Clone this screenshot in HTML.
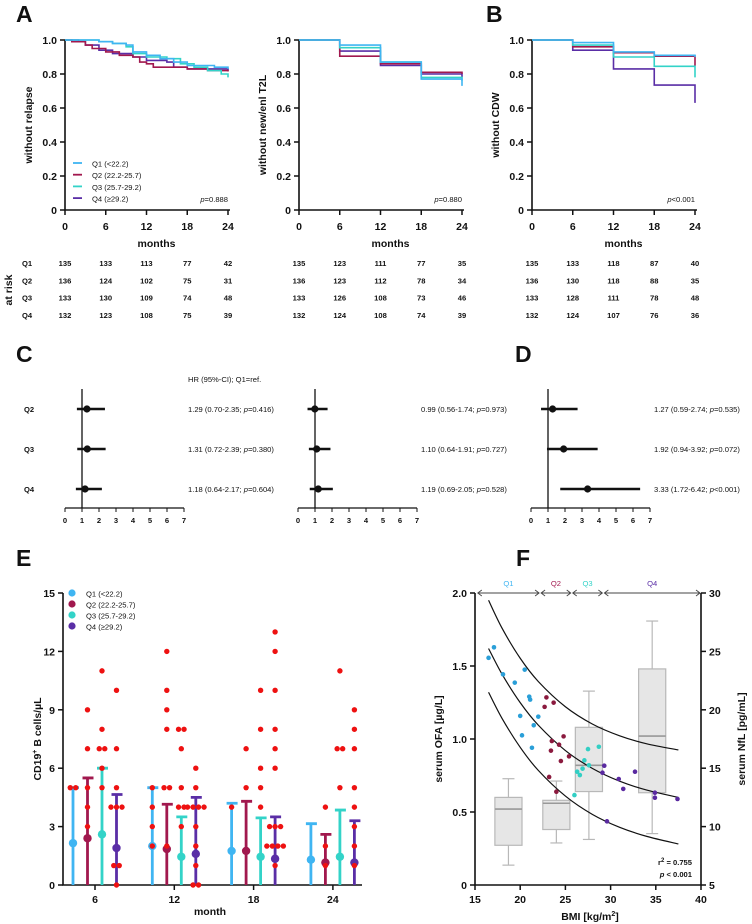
<!DOCTYPE html>
<html><head><meta charset="utf-8"><style>
html,body{margin:0;padding:0;background:#fff}
svg{display:block;font-family:"Liberation Sans",Arial,sans-serif}
.t{font-size:10.5px;font-weight:bold;fill:#111}
.s{font-size:7.6px;fill:#111}
.L{font-size:23px;font-weight:bold;fill:#111}
</style></head><body>
<svg id="fig" width="752" height="924" viewBox="0 0 752 924" xmlns="http://www.w3.org/2000/svg"></svg>
<script>
// ---------- DATA ----------
const qColors = ['#3fb5f2','#a1184e','#33d3c8','#5a2ea6'];
const qLabels = ['Q1 (<22.2)','Q2 (22.2-25.7)','Q3 (25.7-29.2)','Q4 (\u226529.2)'];
const kmMonths = [0,6,12,18,24];
const relQ1 = [[0,1],[4,1],[5,.99],[7,.98],[9,.97],[10,.93],[12,.91],[14,.89],[16,.87],[18,.85],[22,.84],[24,.83]];
const relQ2 = [[0,1],[1,.99],[3,.97],[4,.95],[6,.93],[8,.91],[10,.9],[11,.87],[12,.86],[13,.84],[17,.84],[18,.83],[21,.82],[24,.815]];
const relQ3 = [[0,1],[3,1],[5,.99],[7,.98],[9,.96],[10,.92],[12,.9],[15,.89],[17,.86],[19,.84],[21,.82],[23,.8],[24,.78]];
const relQ4 = [[0,1],[2,.99],[3,.97],[5,.94],[7,.92],[10,.9],[12,.88],[15,.87],[16,.84],[18,.83],[24,.82]];
const t2lQ1 = [1,.97,.87,.77,.73];
const t2lQ2 = [1,.905,.86,.81,.80];
const t2lQ3 = [1,.955,.87,.78,.76];
const t2lQ4 = [1,.935,.85,.80,.78];
const cdwQ1 = [1,.985,.93,.91,.90];
const cdwQ2 = [1,.96,.925,.905,.85];
const cdwQ3 = [1,.97,.90,.845,.78];
const cdwQ4 = [1,.94,.83,.735,.63];
const pRelapse = 'p=0.888', pT2L = 'p=0.880', pCDW = 'p<0.001';
const riskRel = [[135,133,113,77,42],[136,124,102,75,31],[133,130,109,74,48],[132,123,108,75,39]];
const riskT2L = [[135,123,111,77,35],[136,123,112,78,34],[133,126,108,73,46],[132,124,108,74,39]];
const riskCDW = [[135,133,118,87,40],[136,130,118,88,35],[133,128,111,78,48],[132,124,107,76,36]];
const fRows = ['Q2','Q3','Q4'];
const hrRel = [1.29,1.31,1.18], loRel=[0.70,0.72,0.64], hiRel=[2.35,2.39,2.17], pvRel=['0.416','0.380','0.604'];
const hrT2L = [0.99,1.10,1.19], loT2L=[0.56,0.64,0.69], hiT2L=[1.74,1.91,2.05], pvT2L=['0.973','0.727','0.528'];
const hrCDW = [1.27,1.92,3.33], loCDW=[0.59,0.94,1.72], hiCDW=[2.74,3.92,6.42], pvCDW=['=0.535','=0.072','<0.001'];
const eMonths = [6,12,18,24];
const eMedian = [[2.15,2.4,2.6,1.9],[2.0,1.85,1.45,1.6],[1.75,1.75,1.45,1.35],[1.3,1.15,1.45,1.15]];
const eUpper = [[5,5.5,6,4.65],[5,4.15,3.5,4.5],[4.2,4.3,3.45,3.5],[3.15,2.6,3.85,3.3]];
const eDots = [
 [[5,5],[9,7,5,4,3],[11,8,7,7,6,5],[10,7,5,4,4,4,1,1,0]],
 [[5,4,3,2],[12,10,9,8,5,5,2],[8,8,7,5,4,4,3],[6,5,4,4,4,4,3,2,1,0,0]],
 [[4],[7,5],[10,8,6,5,4],[13,12,10,8,7,6,3,3,3,2,2,2,2,1]],
 [[],[4,2,1],[11,7,7,5],[9,8,7,5,4,3,2,1]]];
const fBmiQ1=[16.5,17.1,18.1,19.4,20.5,20.0,20.2,21.0,21.1,21.5,21.3,22.0];
const fOfaQ1=[1.556,1.628,1.443,1.386,1.475,1.158,1.025,1.29,1.27,1.094,0.94,1.153];
const fBmiQ2=[22.9,22.7,23.7,23.5,23.4,24.3,24.8,24.5,25.4,23.2,24.0];
const fOfaQ2=[1.285,1.22,1.249,0.986,0.92,0.961,1.018,0.849,0.881,0.74,0.639];
const fBmiQ3=[26.0,26.3,26.6,26.9,27.1,27.5,27.6,28.7];
const fOfaQ3=[0.616,0.776,0.753,0.797,0.854,0.931,0.82,0.947];
const fBmiQ4=[29.1,29.3,29.6,30.9,31.4,32.7,34.9,34.9,37.4];
const fOfaQ4=[0.769,0.817,0.436,0.726,0.658,0.776,0.632,0.598,0.589];
const boxX0=[17.2,22.5,26.1,33.1], boxX1=[20.2,25.5,29.1,36.1];
const boxMin=[6.7,8.6,8.9,9.4], boxQ1=[8.4,9.75,13.0,12.9], boxMed=[11.5,12.0,15.25,17.75], boxQ3=[12.5,12.25,18.5,23.5], boxMax=[14.1,13.9,21.6,27.6];
const fitBmi=[16.5,18,20,22,25,28,31,34,37.5];
const fitUpper=[1.95,1.758,1.553,1.394,1.221,1.102,1.022,0.967,0.925];
const fitMid=[1.62,1.443,1.249,1.095,0.921,0.798,0.711,0.650,0.600];
const fitLow=[1.32,1.140,0.943,0.785,0.609,0.483,0.395,0.333,0.281];
const qBounds=[15.2,22.2,25.7,29.2,40];
const qNames=['Q1','Q2','Q3','Q4'];

// ---------- HELPERS ----------
const NS='http://www.w3.org/2000/svg';
const svg=document.getElementById('fig');
function mk(tag,attrs,parent){const e=document.createElementNS(NS,tag);for(const k in attrs)e.setAttribute(k,attrs[k]);(parent||svg).appendChild(e);return e;}
function tx(str,attrs,parent){const e=mk('text',attrs,parent);e.textContent=str;return e;}
function grp(name){const g=mk('g',{});return g;}

// ---------- KM PANELS ----------
const kmX0=[65,299,532], kmW=163, kmTop=40, kmBot=210;
const kmNames=['relapse','t2l','cdw'];
const kmY=['without relapse','without new/enl T2L','without CDW'];
const kmP=[pRelapse,pT2L,pCDW];
const kmRisk=[riskRel,riskT2L,riskCDW];
const kmSeries=[[relQ1,relQ2,relQ3,relQ4],
 [t2lQ1,t2lQ2,t2lQ3,t2lQ4].map(a=>a.map((v,i)=>[kmMonths[i],v])),
 [cdwQ1,cdwQ2,cdwQ3,cdwQ4].map(a=>a.map((v,i)=>[kmMonths[i],v]))];
kmX0.forEach((x0,pi)=>{
  const g=grp('km-'+kmNames[pi]+'-panel');
  const sx=m=>x0+m*kmW/24, sy=s=>kmBot-s*(kmBot-kmTop);
  const ax=mk('path',{d:`M${x0},${kmTop} V${kmBot} H${x0+kmW+2}`,stroke:'#111','stroke-width':1.6,fill:'none'},g);
  
  
  [0,.2,.4,.6,.8,1].forEach(v=>{
    mk('line',{x1:x0-5,x2:x0,y1:sy(v),y2:sy(v),stroke:'#111','stroke-width':1.5},g);
    const t=tx(v===0?'0':v.toFixed(1),{x:x0-8,y:sy(v)+4,'text-anchor':'end',class:'t'},g);
    
    
  });
  kmMonths.forEach(m=>{
    mk('line',{x1:sx(m),x2:sx(m),y1:kmBot,y2:kmBot+5,stroke:'#111','stroke-width':1.5},g);
    const t=tx(String(m),{x:sx(m),y:kmBot+20,'text-anchor':'middle',class:'t'},g);
    
    
  });
  const xl=tx('months',{x:x0+kmW/2+10,y:247,'text-anchor':'middle',class:'t'},g);
  
  
  const yl=tx(kmY[pi],{x:0,y:0,'text-anchor':'middle',class:'t',transform:`translate(${x0-33},${(kmTop+kmBot)/2}) rotate(-90)`},g);
  
  
  [3,1,2,0].forEach(qi=>{
    const pts=kmSeries[pi][qi];
    let d=`M${sx(pts[0][0])},${sy(pts[0][1])}`;
    for(let i=1;i<pts.length;i++){d+=` H${sx(pts[i][0])} V${sy(pts[i][1])}`;}
    const p=mk('path',{d:d,stroke:qColors[qi],'stroke-width':1.6,fill:'none'},g);
    
    
  });
  const pt=tx('',{x:x0+kmW,y:202,'text-anchor':'end',class:'s','font-size':'8.5'},g);
  const pi1=mk('tspan',{'font-style':'italic'},pt); pi1.textContent='p';
  const pi2=mk('tspan',{},pt); pi2.textContent=kmP[pi].slice(1);
  
  
  // risk table
  kmRisk[pi].forEach((row,ri)=>{
    row.forEach((n,ci)=>{
      const t=tx(String(n),{x:sx(kmMonths[ci]),y:266+ri*17.3,'text-anchor':'middle',class:'s','font-size':'8.5','font-weight':'bold'},g);
      
      
    });
  });
});
['Q1','Q2','Q3','Q4'].forEach((q,i)=>{
  const t=tx(q,{x:22,y:266+i*17.3,class:'s','font-size':'8.5','font-weight':'bold'});
  
  
});
const ar=tx('at risk',{x:0,y:0,'text-anchor':'middle',class:'t',transform:'translate(12,290) rotate(-90)'});


// legend A
const lgA=grp('km-legend');
qLabels.forEach((l,i)=>{
  mk('line',{x1:73,x2:82,y1:163+i*11.7,y2:163+i*11.7,stroke:qColors[i],'stroke-width':1.8},lgA);
  const t=tx(l,{x:92,y:166.5+i*11.7,class:'s','font-size':'8.5'},lgA);
  
  
});

// ---------- FOREST PANELS ----------
const fX0=[65,298,531], fU=17, fAxisY=508;
const fRowY=[409,449,489];
const fHR=[hrRel,hrT2L,hrCDW], fLo=[loRel,loT2L,loCDW], fHi=[hiRel,hiT2L,hiCDW], fPv=[pvRel,pvT2L,pvCDW];
fX0.forEach((x0,pi)=>{
  const g=grp('forest-'+kmNames[pi]+'-panel');
  const sx=v=>x0+v*fU;
  mk('line',{x1:x0,x2:sx(7),y1:fAxisY,y2:fAxisY,stroke:'#111','stroke-width':1.2},g);
  mk('line',{x1:sx(1),x2:sx(1),y1:389,y2:fAxisY,stroke:'#111','stroke-width':1.3},g);
  for(let v=0;v<=7;v++){
    mk('line',{x1:sx(v),x2:sx(v),y1:fAxisY,y2:fAxisY+4,stroke:'#111','stroke-width':1},g);
    const t=tx(String(v),{x:sx(v),y:fAxisY+15,'text-anchor':'middle',class:'s','font-size':'8.5','font-weight':'bold'},g);
    
    
  }
  fHR[pi].forEach((hr,ri)=>{
    const y=fRowY[ri];
    const ci=mk('line',{x1:sx(fLo[pi][ri]),x2:sx(fHi[pi][ri]),y1:y,y2:y,stroke:'#111','stroke-width':2.6},g);
    
    
    const c=mk('circle',{cx:sx(hr),cy:y,r:3.6,fill:'#111'},g);
    
    
    const pv=fPv[pi][ri];
    const t=tx('',{x:x0+123,y:y+3,class:'s'},g);
    const a=mk('tspan',{},t); a.textContent=hr.toFixed(2)+' ('+fLo[pi][ri].toFixed(2)+'-'+fHi[pi][ri].toFixed(2)+'; ';
    const b=mk('tspan',{'font-style':'italic'},t); b.textContent='p';
    const c2=mk('tspan',{},t); c2.textContent=(pv[0]==='='||pv[0]==='<'?pv:'='+pv)+')';
    
    
  });
});
fRows.forEach((r,i)=>{
  const t=tx(r,{x:24,y:fRowY[i]+3,class:'s','font-size':'8.5','font-weight':'bold'});
  
  
});
const hrT=tx('HR (95%-CI); Q1=ref.',{x:188,y:382,class:'s','font-size':'9'});



// ---------- PANEL LETTERS ----------
[['A',16,22],['B',486,22],['C',16,362],['D',515,362],['E',16,566],['F',516,566]].forEach(l=>{
  const t=tx(l[0],{x:l[1],y:l[2],class:'L'});
  
  
});

// ---------- PANEL E ----------
(function(){
  const g=grp('b-cell-panel');
  const x0=63,x1=362,y0=885,y1=593;
  const sy=v=>y0-v*(y0-y1)/15;
  const sx=m=>95+(m-6)/6*79.3;
  const off=[-22,-7.5,7,21.5];
  const ax=mk('path',{d:`M${x0},${y1} V${y0} H${x1}`,stroke:'#111','stroke-width':1.6,fill:'none'},g);
  
  
  [0,3,6,9,12,15].forEach(v=>{
    mk('line',{x1:x0-5,x2:x0,y1:sy(v),y2:sy(v),stroke:'#111','stroke-width':1.5},g);
    const t=tx(String(v),{x:x0-8,y:sy(v)+4,'text-anchor':'end',class:'t'},g);
    
    
  });
  eMonths.forEach((m,mi)=>{
    mk('line',{x1:sx(m),x2:sx(m),y1:y0,y2:y0+5,stroke:'#111','stroke-width':1.5},g);
    const t=tx(String(m),{x:sx(m),y:y0+18,'text-anchor':'middle',class:'t'},g);
    
    
    for(let q=0;q<4;q++){
      const bx=sx(m)+off[q];
      const bar=mk('path',{d:`M${bx},${sy(0)} V${sy(eUpper[mi][q])} M${bx-5},${sy(eUpper[mi][q])} H${bx+6}`,stroke:qColors[q],'stroke-width':2.8,fill:'none'},g);
      
      
      const md=mk('circle',{cx:bx,cy:sy(eMedian[mi][q]),r:4.2,fill:qColors[q]},g);
      
      
      const vals=eDots[mi][q];
      const counts={};vals.forEach(v=>counts[v]=(counts[v]||0)+1);
      const seen={};
      vals.forEach(v=>{
        const n=counts[v],k=seen[v]||0;seen[v]=k+1;
        const dx=(k-(n-1)/2)*5.5;
        const d=mk('circle',{cx:bx+dx,cy:sy(v),r:2.7,fill:'#ee1111'},g);
        
        
      });
    }
  });
  const xl=tx('month',{x:210,y:915,'text-anchor':'middle',class:'t'},g);
  
  
  const yl=tx('',{x:0,y:0,'text-anchor':'middle',class:'t',transform:'translate(41,739) rotate(-90)'},g);
  const a=mk('tspan',{},yl);a.textContent='CD19';
  const b=mk('tspan',{dy:-4,'font-size':'7'},yl);b.textContent='+';
  const c=mk('tspan',{dy:4},yl);c.textContent=' B cells/\u00b5L';
  
  
  qLabels.forEach((l,i)=>{
    const d=mk('circle',{cx:72,cy:593+i*11,r:3.6,fill:qColors[i]},g);
    
    
    const t=tx(l,{x:86,y:596.5+i*11,class:'s','font-size':'8.5'},g);
    
    
  });
})();

// ---------- PANEL F ----------
(function(){
  const g=grp('bmi-scatter-panel');
  const x0=475,x1=701,y0=885,y1=593;
  const sx=b=>x0+(b-15)*(x1-x0)/25;
  const sy=v=>y0-v*(y0-y1)/2;
  const sn=v=>y0-(v-5)*(y0-y1)/25;
  // boxes
  for(let i=0;i<4;i++){
    const bx0=sx(boxX0[i]),bx1=sx(boxX1[i]),bm=(bx0+bx1)/2;
    const bg=mk('g',{},g);
    
    
    mk('line',{x1:bm,x2:bm,y1:sn(boxMin[i]),y2:sn(boxMax[i]),stroke:'#b8b8b8','stroke-width':1.2},bg);
    mk('line',{x1:bm-6,x2:bm+6,y1:sn(boxMin[i]),y2:sn(boxMin[i]),stroke:'#b8b8b8','stroke-width':1.2},bg);
    mk('line',{x1:bm-6,x2:bm+6,y1:sn(boxMax[i]),y2:sn(boxMax[i]),stroke:'#b8b8b8','stroke-width':1.2},bg);
    mk('rect',{x:bx0,y:sn(boxQ3[i]),width:bx1-bx0,height:sn(boxQ1[i])-sn(boxQ3[i]),fill:'#e6e6e6',stroke:'#b8b8b8','stroke-width':1.2},bg);
    mk('line',{x1:bx0,x2:bx1,y1:sn(boxMed[i]),y2:sn(boxMed[i]),stroke:'#999','stroke-width':1.6},bg);
  }
  // fit curves
  [[fitUpper,'fit-upper-ci'],[fitMid,'fit-line'],[fitLow,'fit-lower-ci']].forEach(fc=>{
    const P=fitBmi.map((b,i)=>[sx(b),sy(fc[0][i])]);
    let d=`M${P[0][0]},${P[0][1]}`;
    for(let i=0;i<P.length-1;i++){
      const p0=P[Math.max(0,i-1)],p1=P[i],p2=P[i+1],p3=P[Math.min(P.length-1,i+2)];
      d+=` C${p1[0]+(p2[0]-p0[0])/6},${p1[1]+(p2[1]-p0[1])/6} ${p2[0]-(p3[0]-p1[0])/6},${p2[1]-(p3[1]-p1[1])/6} ${p2[0]},${p2[1]}`;
    }
    const p=mk('path',{d:d,stroke:'#111','stroke-width':1.2,fill:'none'},g);
    
    
  });
  // scatter
  const fb=[fBmiQ1,fBmiQ2,fBmiQ3,fBmiQ4], fo=[fOfaQ1,fOfaQ2,fOfaQ3,fOfaQ4];
  const fcol=['#2a9fd8','#8b1a3e','#33cfc4','#5a2aa0'];
  fb.forEach((arr,q)=>arr.forEach((b,i)=>{
    const c=mk('circle',{cx:sx(b),cy:sy(fo[q][i]),r:2.3,fill:fcol[q]},g);
    
    
  }));
  // axes
  const ax=mk('path',{d:`M${x0},${y1} V${y0} H${x1} V${y1}`,stroke:'#111','stroke-width':1.6,fill:'none'},g);
  
  
  [0,.5,1,1.5,2].forEach(v=>{
    mk('line',{x1:x0-5,x2:x0,y1:sy(v),y2:sy(v),stroke:'#111','stroke-width':1.5},g);
    const t=tx(v===0?'0':v.toFixed(1),{x:x0-8,y:sy(v)+4,'text-anchor':'end',class:'t'},g);
    
    
  });
  [5,10,15,20,25,30].forEach(v=>{
    mk('line',{x1:x1,x2:x1+5,y1:sn(v),y2:sn(v),stroke:'#111','stroke-width':1.5},g);
    const t=tx(String(v),{x:x1+8,y:sn(v)+4,class:'t'},g);
    
    
  });
  [15,20,25,30,35,40].forEach(v=>{
    mk('line',{x1:sx(v),x2:sx(v),y1:y0,y2:y0+5,stroke:'#111','stroke-width':1.5},g);
    const t=tx(String(v),{x:sx(v),y:y0+18,'text-anchor':'middle',class:'t'},g);
    
    
  });
  // quartile arrows
  for(let i=0;i<4;i++){
    const a=sx(qBounds[i])+1,b=sx(qBounds[i+1])-1;
    const ar=mk('path',{d:`M${a},${y1} H${b} M${a+4},${y1-3} L${a},${y1} L${a+4},${y1+3} M${b-4},${y1-3} L${b},${y1} L${b-4},${y1+3}`,stroke:'#444','stroke-width':0.9,fill:'none'},g);
    
    
    const t=tx(qNames[i],{x:(a+b)/2,y:586,'text-anchor':'middle',class:'s','font-size':'8.5',fill:qColors[i]},g);
    t.setAttribute('fill',qColors[i]);
    t.setAttribute('style','fill:'+qColors[i]);
    
    
  }
  const r1=tx('',{x:692,y:865,'text-anchor':'end',class:'s','font-size':'8.5','font-weight':'bold'},g);
  const r1a=mk('tspan',{},r1);r1a.textContent='r';
  const r1b=mk('tspan',{dy:-3,'font-size':'6'},r1);r1b.textContent='2';
  const r1c=mk('tspan',{dy:3},r1);r1c.textContent=' = 0.755';
  
  
  const r2=tx('',{x:692,y:877,'text-anchor':'end',class:'s','font-size':'8.5','font-weight':'bold'},g);
  const r2a=mk('tspan',{'font-style':'italic'},r2);r2a.textContent='p';
  const r2b=mk('tspan',{},r2);r2b.textContent=' < 0.001';
  
  
  const xl=tx('',{x:590,y:920,'text-anchor':'middle',class:'t'},g);
  const xa=mk('tspan',{},xl);xa.textContent='BMI [kg/m';
  const xb=mk('tspan',{dy:-4,'font-size':'7'},xl);xb.textContent='2';
  const xc=mk('tspan',{dy:4},xl);xc.textContent=']';
  
  
  const yl=tx('serum OFA [\u00b5g/L]',{x:0,y:0,'text-anchor':'middle',class:'t',transform:'translate(442,739) rotate(-90)'},g);
  
  
  const yr=tx('serum NfL [pg/mL]',{x:0,y:0,'text-anchor':'middle',class:'t',transform:'translate(745,739) rotate(-90)'},g);
  
  
})();
</script>
</body></html>
